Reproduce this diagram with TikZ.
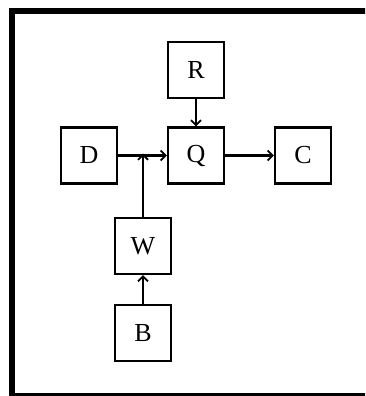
\documentclass[tikz,border=0pt]{standalone}
\usepackage{fontspec}
\setmainfont{Liberation Serif}
\usetikzlibrary{arrows.meta}
\begin{document}
\begin{tikzpicture}[x=1pt,y=-1pt,
  blk/.style={draw, line width=2.2pt, minimum width=56pt, minimum height=56pt, inner sep=0pt, font=\fontsize{26}{30}\selectfont},
  conn/.style={line width=2.2pt, -{Straight Barb[length=5pt,width=10pt,line width=1.8pt]}}]
\useasboundingbox (0,0) rectangle (365,396);
\begin{scope}
\clip (0,0) rectangle (365,396);
\draw[line width=6pt] (12,11) rectangle (372,396);
\end{scope}
\node[blk] (R) at (196,70) {R};
\node[blk] (Q) at (196,155.5) {Q};
\node[blk] (D) at (89,155.5) {D};
\node[blk] (C) at (303,155.5) {C};
\node[blk] (W) at (143,246) {W};
\node[blk] (B) at (143,333) {B};
\coordinate (J) at (W.north |- D.east);
\draw[conn] (R) -- (Q);
\draw[conn] (D) -- (Q);
\draw[conn] (Q) -- (C);
\draw[conn] (W.north) -- ([yshift=2pt]J);
\draw[conn] (B) -- (W);
\end{tikzpicture}
\end{document}
